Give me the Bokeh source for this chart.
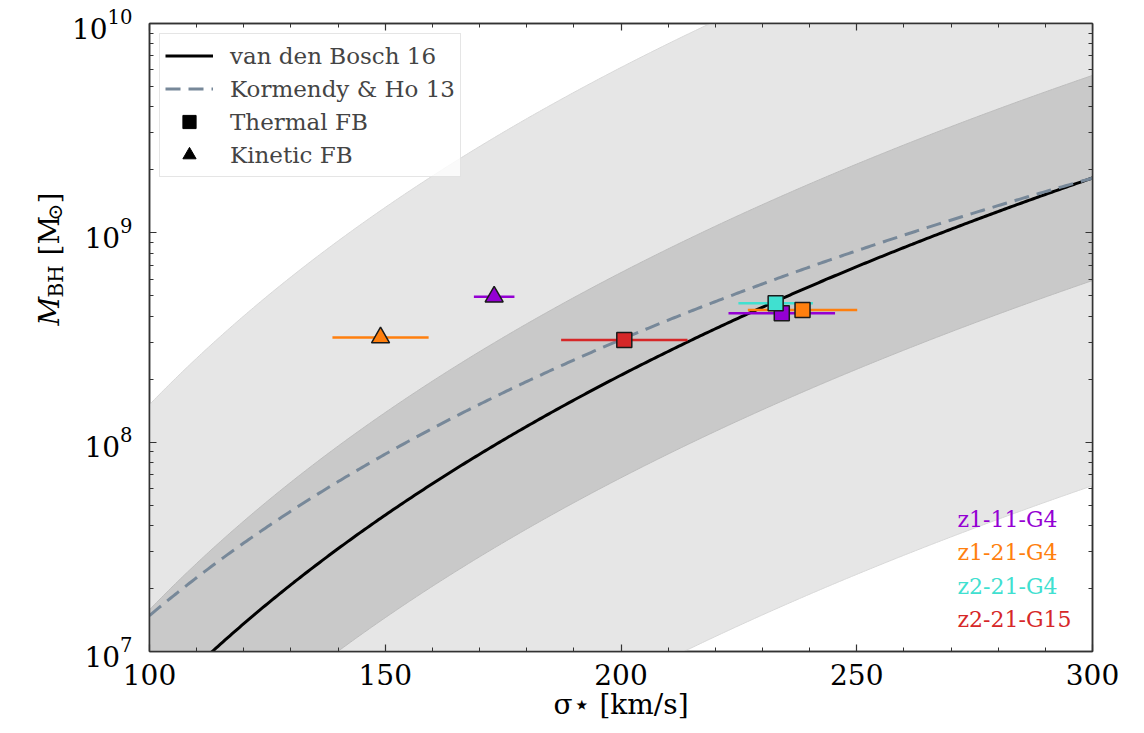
import numpy as np
from bokeh.plotting import figure
from bokeh.layouts import row
from bokeh.models import FixedTicker, LinearAxis, LogAxis, Label, Legend, LegendItem
from bokeh.embed import file_html
from bokeh.resources import INLINE

# Black hole mass - velocity dispersion relations:
#   log10(M_BH / Msun) = intercept + slope * log10(sigma / 200 km/s)
relation_names = ["van den Bosch 16", "Kormendy & Ho 13"]
relation_intercept = [8.32, 8.49]
relation_slope = [5.35, 4.38]
relation_scatter = 0.49          # intrinsic scatter of van den Bosch 16 [dex]

# Simulated galaxies
run_names = ["z1-11-G4", "z1-21-G4", "z2-21-G4", "z2-21-G15"]
run_colors = ["#9400d3", "#ff7f0e", "#40e0d0", "#d62728"]

# Thermal feedback runs
thermal_run = ["z1-11-G4", "z1-21-G4", "z2-21-G4", "z2-21-G15"]
thermal_sigma = [234.1, 238.5, 232.8, 200.7]        # km/s
thermal_sigma_err = [11.3, 11.6, 7.9, 13.4]         # km/s
thermal_mbh = [4.13e8, 4.28e8, 4.61e8, 3.08e8]      # Msun

# Kinetic feedback runs
kinetic_run = ["z1-11-G4", "z1-21-G4"]
kinetic_sigma = [173.1, 149.0]
kinetic_sigma_err = [4.3, 10.2]
kinetic_mbh = [4.95e8, 3.16e8]

x_ticks = [100, 150, 200, 250, 300]
y_ticks = [1e7, 1e8, 1e9, 1e10]

SERIF = "DejaVu Serif"
W, H = 1144, 733
LEFT_W = 68                  # strip holding the y-axis title
FL, FR, FT, FB = 147, 1092, 23, 651      # plot frame edges on the page

p = figure(width=W - LEFT_W, height=H, x_range=(100, 300), y_range=(1e7, 1e10),
           y_axis_type="log", output_backend="svg", toolbar_location=None,
           min_border_left=FL - LEFT_W, min_border_right=W - FR,
           min_border_top=FT, min_border_bottom=H - FB,
           background_fill_color="white", border_fill_color="white")
p.xgrid.grid_line_color = None
p.ygrid.grid_line_color = None
p.outline_line_color = "#333333"
p.outline_line_width = 1.5

cmap = dict(zip(run_names, run_colors))

# relation curves and scatter bands
sig = np.linspace(100, 300, 400)
logs = np.log10(sig / 200.0)
vdb = relation_intercept[0] + relation_slope[0] * logs
kh = relation_intercept[1] + relation_slope[1] * logs

p.varea(x=sig, y1=10 ** (vdb - 3 * relation_scatter), y2=10 ** (vdb + 3 * relation_scatter),
        fill_color="#e6e6e6")
p.varea(x=sig, y1=10 ** (vdb - relation_scatter), y2=10 ** (vdb + relation_scatter),
        fill_color="#c9c9c9")
for k in (-3, 3):
    p.line(sig, 10 ** (vdb + k * relation_scatter), line_color="#d8d8d8", line_width=1)
for k in (-1, 1):
    p.line(sig, 10 ** (vdb + k * relation_scatter), line_color="#bdbdbd", line_width=1)

r_vdb = p.line(sig, 10 ** vdb, line_color="black", line_width=3)
r_kh = p.line(sig, 10 ** kh, line_color="#778899", line_width=3, line_dash="15 8")

# horizontal error bars then markers
for run, s, e, m in zip(kinetic_run, kinetic_sigma, kinetic_sigma_err, kinetic_mbh):
    p.segment(x0=[s - e], x1=[s + e], y0=[m], y1=[m], line_color=cmap[run], line_width=2.5)
for run, s, e, m in zip(thermal_run, thermal_sigma, thermal_sigma_err, thermal_mbh):
    p.segment(x0=[s - e], x1=[s + e], y0=[m], y1=[m], line_color=cmap[run], line_width=2.5)

for run, s, m in zip(kinetic_run, kinetic_sigma, kinetic_mbh):
    p.scatter(x=[s], y=[m], marker="triangle", size=18, fill_color=cmap[run],
              line_color="#1a1a1a", line_width=1.5)
for run, s, m in zip(thermal_run, thermal_sigma, thermal_mbh):
    p.scatter(x=[s], y=[m], marker="square", size=15, fill_color=cmap[run],
              line_color="#1a1a1a", line_width=1.5)

# legend-only marker renderers (a single undefined point, never drawn)
r_sq = p.scatter(x=[np.nan], y=[np.nan], marker="square", size=15,
                 fill_color="black", line_color="black")
r_tri = p.scatter(x=[np.nan], y=[np.nan], marker="triangle", size=18,
                  fill_color="black", line_color="black")

legend = Legend(items=[LegendItem(label=relation_names[0], renderers=[r_vdb]),
                       LegendItem(label=relation_names[1], renderers=[r_kh]),
                       LegendItem(label="Thermal FB", renderers=[r_sq]),
                       LegendItem(label="Kinetic FB", renderers=[r_tri])],
                location="top_left", margin=10, padding=5, spacing=0,
                glyph_width=48, glyph_height=33, label_height=33, label_standoff=17,
                label_text_font=SERIF, label_text_font_size="23px",
                border_line_color="#cccccc", border_line_width=1,
                background_fill_color="white", background_fill_alpha=0.8)
p.add_layout(legend)

# axes: ticks pointing inwards on all four sides
x_minor = [v for v in range(100, 301, 10) if v % 50]
y_minor = [k * 10.0 ** e for e in range(7, 10) for k in range(2, 10)]


def style(ax, labels=True):
    ax.major_tick_in = 7
    ax.major_tick_out = 0
    ax.minor_tick_in = 4
    ax.minor_tick_out = 0
    ax.axis_line_color = "#333333"
    ax.axis_line_width = 1.5
    ax.major_tick_line_color = "#333333"
    ax.minor_tick_line_color = "#333333"
    ax.major_tick_line_width = 1.2
    ax.minor_tick_line_width = 1.0
    ax.major_label_text_font = SERIF
    if labels:
        ax.major_label_text_font_size = "28px"
        ax.major_label_text_color = "black"
    else:
        # tick marks only on the top and right edges
        ax.major_label_text_font_size = "1px"
        ax.major_label_text_color = None
        ax.major_label_standoff = 0


xb = p.xaxis[0]
xb.ticker = FixedTicker(ticks=x_ticks, minor_ticks=x_minor)
style(xb)
xb.major_label_standoff = 12
xb.axis_label = "σ⋆ [km/s]"
xb.axis_label_text_font = SERIF
xb.axis_label_text_font_size = "28px"
xb.axis_label_text_font_style = "normal"
xb.axis_label_text_color = "black"
xb.axis_label_standoff = 0

yl = p.yaxis[0]
yl.ticker = FixedTicker(ticks=y_ticks, minor_ticks=y_minor)
style(yl)
yl.major_label_standoff = 17

xt = LinearAxis(ticker=FixedTicker(ticks=x_ticks, minor_ticks=x_minor))
style(xt, labels=False)
p.add_layout(xt, "above")
yr = LogAxis(ticker=FixedTicker(ticks=y_ticks, minor_ticks=y_minor))
style(yr, labels=False)
p.add_layout(yr, "right")


def text_strip(width, height):
    """A bare panel (no axes, no outline) that only carries text."""
    f = figure(width=width, height=height, x_range=(0, 1), y_range=(0, 1),
               output_backend="svg", toolbar_location=None,
               min_border=0, background_fill_color="white", border_fill_color="white")
    f.axis.visible = False
    f.grid.visible = False
    f.outline_line_color = None
    return f


def put(fig, ox, oy, text, cx, cy, size, angle=0.0, color="black", style_="normal",
        baseline="alphabetic"):
    """Place a text at page pixel (cx, cy); (ox, oy) is the panel frame's bottom-left."""
    fig.add_layout(Label(x=cx - ox, y=oy - cy, x_units="screen", y_units="screen",
                         text=text, text_font=SERIF, text_font_size=f"{size}px",
                         text_font_style=style_, text_color=color, angle=angle,
                         text_align="left", text_baseline=baseline))


# run names, coloured
for i, (name, col) in enumerate(zip(run_names, run_colors)):
    put(p, FL, FB, name, 955, 519 + 33.3 * i, 22, color=col, baseline="middle")

# y-axis title: M_BH [M_sun]
left = text_strip(LEFT_W, H)
rot = np.pi / 2
put(left, 0, H, "M", 49, 407, 28, angle=rot, style_="italic")
put(left, 0, H, "BH", 55, 379, 20, angle=rot)
put(left, 0, H, "[M", 49, 337, 28, angle=rot)
put(left, 0, H, "⊙", 54, 302, 20, angle=rot)
put(left, 0, H, "]", 49, 285, 28, angle=rot)

page = row(left, p, spacing=0)
open("out.html", "w").write(file_html(page, INLINE))
